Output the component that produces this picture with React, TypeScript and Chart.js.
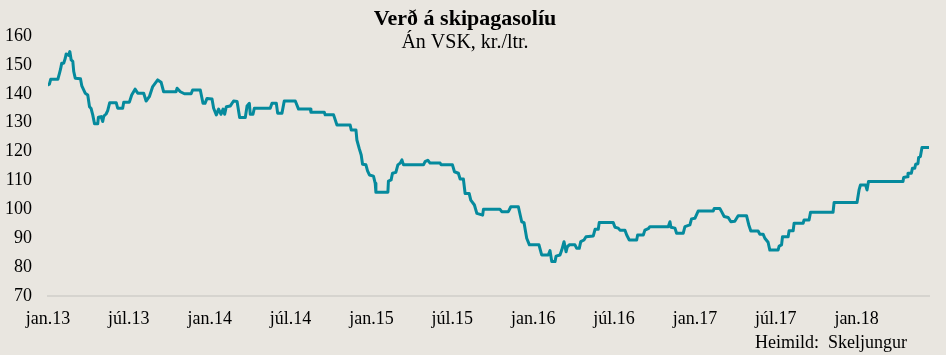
import React, { useEffect, useRef } from "react";
import { Chart, registerables } from "chart.js";

Chart.register(...registerables);

// Time axis: months since jan. 2013 (fractional)
const months = [0.0,0.1,0.2,0.73,0.85,0.93,1.02,1.17,1.28,1.35,1.52,1.62,1.72,1.84,1.91,2.02,2.41,2.51,2.76,2.95,3.08,3.20,3.32,3.45,3.69,3.74,3.94,4.06,4.14,4.31,4.43,4.58,5.06,5.17,5.54,5.62,6.04,6.21,6.46,6.66,7.10,7.28,7.52,7.77,8.14,8.39,8.58,9.50,9.58,9.82,10.12,10.62,10.73,
  11.30,11.50,11.65,11.80,12.17,12.29,12.49,12.66,12.84,12.99,13.11,13.23,13.53,13.77,14.03,14.22,14.64,14.77,14.94,15.01,15.21,15.31,16.49,16.62,16.94,17.04,17.36,17.53,18.35,18.59,19.46,19.51,20.50,20.57,21.19,21.44,22.42,22.50,22.85,22.92,23.09,23.24,23.34,23.59,23.71,23.85,24.15,24.28,24.33,25.22,25.26,25.46,25.56,25.81,25.96,26.13,26.26,26.38,27.86,27.98,28.18,28.35,29.10,29.17,30.01,30.16,30.45,30.58,30.82,30.95,31.25,31.37,31.64,31.82,
  32.25,32.31,33.54,33.67,34.16,34.34,34.90,35.15,35.32,35.52,35.72,36.43,36.63,37.12,37.25,37.38,37.62,37.70,37.99,38.12,38.29,38.44,38.53,38.68,39.10,39.23,39.42,39.53,39.77,39.92,40.46,40.59,40.83,40.90,41.94,42.07,42.31,42.44,42.81,42.94,43.13,
  43.68,43.75,44.17,44.29,44.54,44.66,46.02,46.15,46.22,46.52,46.64,47.13,47.26,47.63,47.75,48.00,48.24,49.36,49.43,49.85,49.98,50.17,50.47,50.67,50.96,51.21,51.83,52.00,52.15,52.69,52.82,53.06,53.19,53.43,53.56,
  54.17,54.25,54.43,54.50,54.92,54.99,55.29,55.36,56.03,56.10,56.47,56.58,58.25,58.33,60.03,60.18,60.28,60.67,60.77,60.88,63.44,63.49,63.74,63.81,64.06,64.14,64.31,64.38,64.55,64.60,64.73,64.85,65.37];

// Verð, kr./ltr.
const prices = [143.1,143.3,145.0,145.0,147.1,148.5,150.6,150.6,152.3,153.8,153.3,154.6,151.7,151.2,147.7,145.4,145.2,142.7,140.2,139.6,135.5,134.9,132.7,129.6,129.6,131.9,132.1,130.4,132.3,133.0,134.2,136.9,136.9,135.0,135.0,137.1,137.1,139.6,141.6,140.2,140.2,137.5,139.0,142.5,144.8,144.0,140.7,140.7,141.9,140.7,140.0,140.0,141.3,
  141.3,136.7,136.7,138.4,138.2,135.0,132.7,134.7,132.9,134.7,132.9,135.5,135.8,137.5,137.3,131.8,131.8,135.8,136.7,132.9,132.9,135.0,135.0,136.7,136.7,133.3,133.3,137.5,137.5,134.7,134.7,133.6,133.6,132.7,132.7,129.2,129.2,127.5,127.5,124.0,121.1,118.8,115.6,115.4,113.3,111.9,111.5,109.0,105.9,105.9,109.8,110.2,112.5,112.8,115.4,116.0,117.1,115.4,115.4,116.5,117.0,116.0,116.0,115.4,115.4,113.0,112.5,110.5,110.5,105.5,105.5,103.2,101.5,98.6,
  98.0,100.0,100.0,99.2,99.2,100.9,100.9,95.7,95.4,90.0,87.7,87.7,84.2,84.2,85.7,81.9,81.9,83.8,84.2,85.9,88.8,85.3,87.0,87.7,87.7,86.5,86.5,88.8,89.4,90.5,90.8,93.1,93.1,95.4,95.4,93.8,93.5,92.8,92.8,91.1,89.4,
  89.4,91.1,91.1,92.8,93.3,94.0,94.0,95.7,93.8,93.5,91.7,91.7,94.0,94.6,96.7,96.9,99.4,99.4,100.3,100.3,99.2,97.5,97.2,95.7,95.9,97.8,97.8,94.6,92.5,92.5,91.4,91.4,90.0,88.6,85.9,
  85.9,87.3,87.7,90.5,90.5,92.6,92.6,95.2,95.2,96.3,96.3,99.0,99.0,102.4,102.4,106.7,108.4,108.4,106.7,109.6,109.6,111.0,111.3,112.5,112.5,114.2,114.2,115.6,115.8,117.9,118.3,121.4,121.4];

const tickMonths = [0, 6, 12, 18, 24, 30, 36, 42, 48, 54, 60];
const tickLabels = ["jan.13", "júl.13", "jan.14", "júl.14", "jan.15", "júl.15", "jan.16", "júl.16", "jan.17", "júl.17", "jan.18"];
const yTicks = [70, 80, 90, 100, 110, 120, 130, 140, 150, 160];

const titleText = "Verð á skipagasolíu";
const subtitleText = "Án VSK, kr./ltr.";
const sourceText = "Heimild:  Skeljungur";

const BG = "#e9e6e0";
const LINE = "#058a9d";
const FONT = "'Liberation Serif', 'Times New Roman', serif";

export default function App() {
  const ref = useRef<HTMLCanvasElement | null>(null);

  useEffect(() => {
    document.body.style.margin = "0";
    const canvas = ref.current;
    if (!canvas) return;

    const overlay = {
      id: "overlay",
      beforeDraw(chart: any) {
        const c = chart.ctx;
        c.save();
        c.fillStyle = BG;
        c.fillRect(0, 0, chart.width, chart.height);
        c.restore();
      },
      afterDraw(chart: any) {
        const c = chart.ctx;
        c.save();
        c.fillStyle = "#000";
        c.textAlign = "center";
        c.textBaseline = "alphabetic";
        c.font = `bold 22px ${FONT}`;
        c.fillText(titleText, 465, 25);
        c.font = `20px ${FONT}`;
        c.fillText(subtitleText, 465, 48);
        c.font = `18px ${FONT}`;
        c.textAlign = "right";
        c.textBaseline = "middle";
        c.fillText(sourceText, 907, 343);
        c.restore();
      },
    };

    const chart = new Chart(canvas, {
      type: "line",
      data: {
        datasets: [
          {
            data: months.map((m, i) => ({ x: m, y: prices[i] })),
            borderColor: LINE,
            borderWidth: 3,
            borderJoinStyle: "round",
            borderCapStyle: "round",
            pointRadius: 0,
            tension: 0,
            fill: false,
          },
        ],
      },
      options: {
        animation: false,
        responsive: false,
        layout: { padding: { left: 0, right: 17, top: 36, bottom: 0 } },
        plugins: { legend: { display: false }, tooltip: { enabled: false }, title: { display: false } },
        scales: {
          x: {
            type: "linear",
            min: 0,
            max: months[months.length - 1],
            afterBuildTicks: (scale: any) => {
              scale.ticks = tickMonths.map((v) => ({ value: v }));
            },
            afterFit: (scale: any) => {
              scale.height = 59;
            },
            grid: { display: false, drawTicks: false },
            border: { display: true, color: "#d6d4cf", width: 2 },
            ticks: {
              autoSkip: false,
              maxRotation: 0,
              padding: 12,
              color: "#000",
              font: { family: FONT, size: 18 },
              callback: (v: any) => {
                const i = tickMonths.indexOf(Number(v));
                return i >= 0 ? tickLabels[i] : "";
              },
            },
          },
          y: {
            min: 70,
            max: 160,
            afterBuildTicks: (scale: any) => {
              scale.ticks = yTicks.map((v) => ({ value: v }));
            },
            afterFit: (scale: any) => {
              scale.width = 48;
            },
            grid: { display: false, drawTicks: false },
            border: { display: false },
            ticks: {
              padding: 16,
              color: "#000",
              font: { family: FONT, size: 18 },
            },
          },
        },
      },
      plugins: [overlay],
    });

    return () => chart.destroy();
  }, []);

  return (
    <div style={{ width: 946, height: 355 }}>
      <canvas ref={ref} width={946} height={355} style={{ display: "block" }} />
    </div>
  );
}
